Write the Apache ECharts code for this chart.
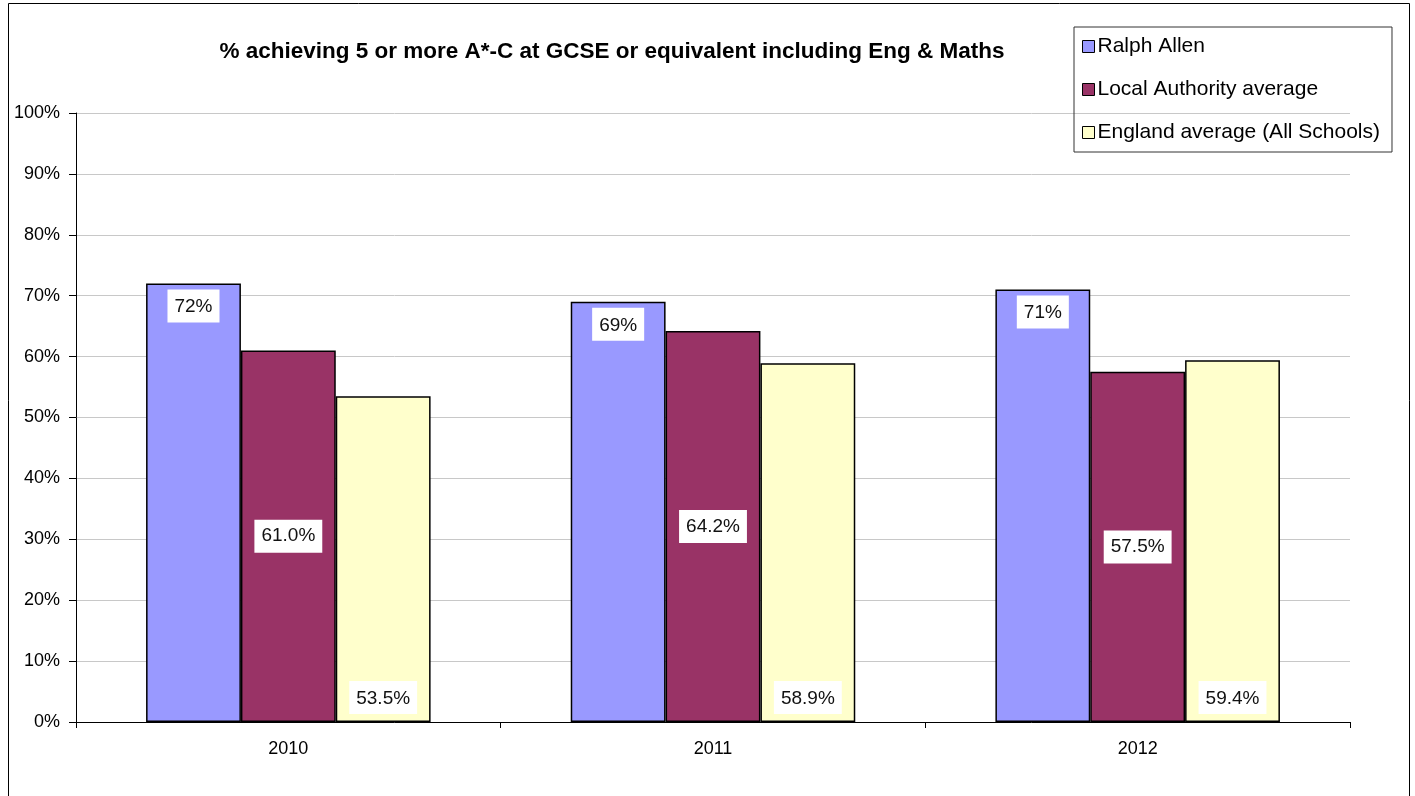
<!DOCTYPE html>
<html>
<head>
<meta charset="utf-8">
<script src="https://cdn.jsdelivr.net/npm/echarts@6/dist/echarts.min.js"></script>
<style>
  html, body { margin: 0; padding: 0; background: #fff; }
  #chart { width: 1415px; height: 796px; }
</style>
</head>
<body>
<div id="chart"></div>
<script>
const years = ['2010', '2011', '2012'];
const ralphAllen = [72, 69, 71];
const localAuthority = [61.0, 64.2, 57.5];
const england = [53.5, 58.9, 59.4];

const FONT = '"Liberation Sans", Arial, sans-serif';

// white boxed labels like the excel original
function boxLabel(position, digits, dist) {
  return {
    show: true,
    position: position,
    distance: dist,
    color: '#111',
    fontFamily: FONT,
    fontSize: 19,
    backgroundColor: '#fff',
    padding: [8, 7, 6, 7],
    formatter: p => p.value.toFixed(digits) + '%'
  };
}

function barSeries(name, data, colour, position, digits, dist) {
  return {
    name: name,
    type: 'bar',
    data: data,
    barGap: '0%',
    barCategoryGap: '33%',
    itemStyle: { color: colour, borderColor: '#000', borderWidth: 1.5 },
    label: boxLabel(position, digits, dist)
  };
}

const chart = echarts.init(document.getElementById('chart'));

chart.setOption({
  animation: false,
  textStyle: { fontFamily: FONT },
  title: {
    text: '% achieving 5 or more A*-C at GCSE or equivalent including Eng & Maths',
    left: 607,
    textAlign: 'center',
    top: 35,
    textStyle: { fontFamily: FONT, fontSize: 22.5, fontWeight: 'bold', color: '#000' }
  },
  legend: {
    orient: 'vertical',
    left: 1074,
    top: 27,
    padding: [9, 12, 9, 8],
    itemGap: 22,
    itemWidth: 12,
    itemHeight: 12,
    icon: 'rect',
    borderColor: '#333',
    borderWidth: 1,
    textStyle: { fontFamily: FONT, fontSize: 21, color: '#000', padding: [0, 0, 0, -2] },
    itemStyle: { borderColor: '#000', borderWidth: 1 },
    data: ['Ralph Allen', 'Local Authority average', 'England average (All Schools)']
  },
  grid: { left: 76, right: 65, top: 113, bottom: 74 },
  xAxis: {
    type: 'category',
    data: years,
    axisLine: { lineStyle: { color: '#000', width: 1 } },
    axisTick: { show: true, length: 6, lineStyle: { color: '#000' } },
    axisLabel: { color: '#000', fontSize: 18, margin: 18, fontFamily: FONT }
  },
  yAxis: {
    type: 'value',
    min: 0,
    max: 100,
    interval: 10,
    axisLine: { show: true, lineStyle: { color: '#000', width: 1 } },
    axisTick: { show: true, length: 7, lineStyle: { color: '#000' } },
    axisLabel: { formatter: '{value}%', color: '#000', fontSize: 18, margin: 16, fontFamily: FONT },
    splitLine: { lineStyle: { color: '#c8c8c8', width: 1 } }
  },
  graphic: [{
    type: 'rect',
    shape: { x: 8.5, y: 3.5, width: 1401, height: 800 },
    style: { fill: null, stroke: '#000', lineWidth: 1 },
    silent: true,
    z: -1
  }],
  series: [
    barSeries('Ralph Allen', ralphAllen, '#9999ff', 'insideTop', 0, 6),
    barSeries('Local Authority average', localAuthority, '#993366', 'inside', 1, 5),
    barSeries('England average (All Schools)', england, '#ffffcc', 'insideBottom', 1, 8)
  ]
});
</script>
</body>
</html>
